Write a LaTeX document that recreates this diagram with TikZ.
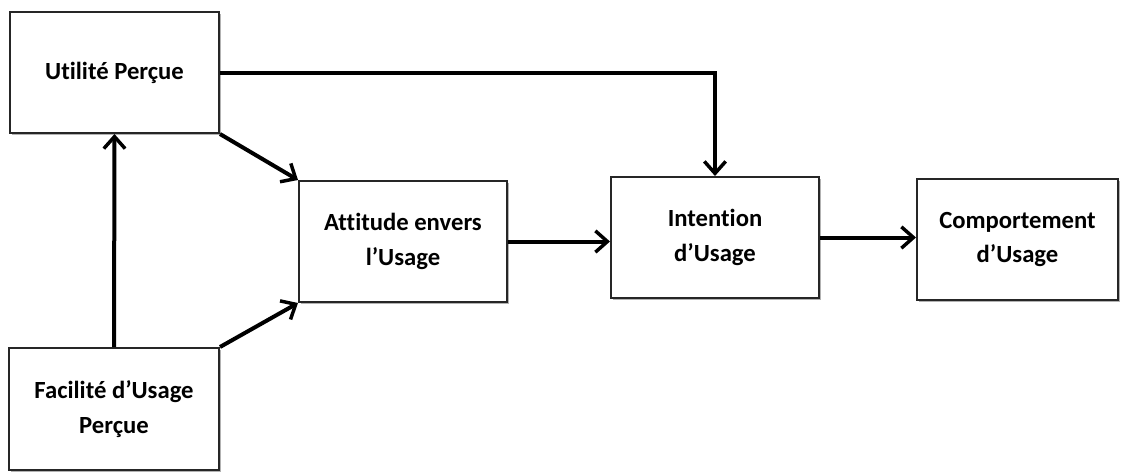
\documentclass[tikz,border=0pt]{standalone}
\usepackage{fontspec}
\setmainfont[Ligatures=NoCommon]{Carlito}
\usetikzlibrary{arrows.meta,shadows}
\tikzset{
  box/.style={draw=black!85, line width=1.5pt, fill=white, align=center,
    inner sep=2pt, font=\bfseries\fontsize{18.5}{26}\selectfont,
    drop shadow={shadow xshift=1.6pt, shadow yshift=-1.6pt, opacity=0.3, fill=black}},
  link/.style={line width=3pt, -{Straight Barb[length=9pt,width=16pt,line width=2.6pt]}},
  plain/.style={line width=3pt}
}
\begin{document}
\begin{tikzpicture}[x=0.75pt,y=-0.75pt]
\useasboundingbox (0,0) rectangle (1122,472);
\node[box, minimum width=156.75pt, minimum height=90.75pt] (U) at (114.5,72.5) {Utilité Perçue};
\node[box, minimum width=157.5pt, minimum height=91.5pt] (F) at (114,409) {Facilité d’Usage\\Perçue};
\node[box, minimum width=156pt, minimum height=90.75pt] (A) at (403,241.5) {Attitude envers\\l’Usage};
\node[box, minimum width=156pt, minimum height=90.75pt] (I) at (715,237.5) {Intention\\d’Usage};
\node[box, minimum width=150.75pt, minimum height=90.75pt] (C) at (1017.5,239.5) {Comportement\\d’Usage};
\draw[link] (U.east) -| (I.north);
\draw[link] (U.south east) -- (A.north west);
\draw[link] (F.north east) -- (A.south west);
\draw[link] (F.north) -- (U.south);
\draw[link] (A.east) -- (A.east -| I.west);
\draw[link] (I.east) -- (I.east -| C.west);
\end{tikzpicture}
\end{document}
